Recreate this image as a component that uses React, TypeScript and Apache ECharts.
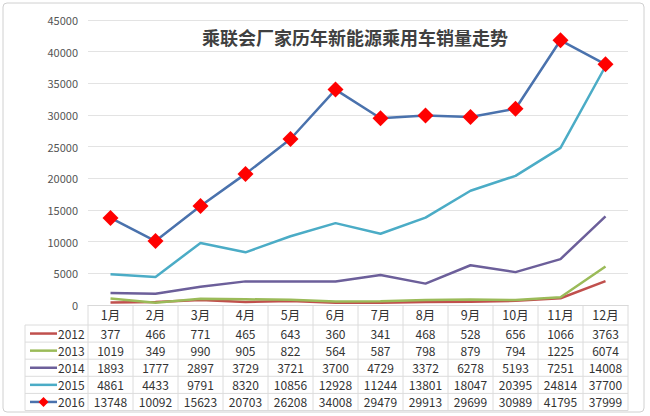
import React, { useEffect, useRef } from "react";
import * as echarts from "echarts";

const months = ["1月", "2月", "3月", "4月", "5月", "6月", "7月", "8月", "9月", "10月", "11月", "12月"];
const years = ["2012", "2013", "2014", "2015", "2016"];
const v2012 = [377, 466, 771, 465, 643, 360, 341, 468, 528, 656, 1066, 3763];
const v2013 = [1019, 349, 990, 905, 822, 564, 587, 798, 879, 794, 1225, 6074];
const v2014 = [1893, 1777, 2897, 3729, 3721, 3700, 4729, 3372, 6278, 5193, 7251, 14008];
const v2015 = [4861, 4433, 9791, 8320, 10856, 12928, 11244, 13801, 18047, 20395, 24814, 37700];
const v2016 = [13748, 10092, 15623, 20703, 26208, 34008, 29479, 29913, 29699, 30989, 41795, 37999];
const colors = ["#c0504d", "#9bbb59", "#6c5f9a", "#4bacc6", "#4a72ad"];
const title = "乘联会厂家历年新能源乘用车销量走势";

const FONT = "'Noto Sans CJK SC', 'Noto Sans', sans-serif";

export default function App() {
  const ref = useRef<HTMLDivElement>(null);
  useEffect(() => {
    if (!ref.current) return;
    const chart = echarts.init(ref.current, null, { renderer: "svg" });
    const all = [v2012, v2013, v2014, v2015, v2016];
    const gridLeft = 88, gridRight = 22, gridTop = 20, gridBottom = 111;
    const series: any[] = all.map((d, i) => ({
      name: years[i],
      type: "line",
      data: d,
      z: 2 + i,
      lineStyle: { color: colors[i], width: 2.5 },
      itemStyle: { color: i === 4 ? "#ff0000" : colors[i] },
      symbol: i === 4 ? "diamond" : "none",
      symbolSize: i === 4 ? 16 : 0,
      showSymbol: i === 4,
    }));
    chart.setOption({
      animation: false,
      textStyle: { fontFamily: FONT },
      grid: { left: gridLeft, right: gridRight, top: gridTop, bottom: gridBottom },
      xAxis: {
        type: "category",
        data: months,
        boundaryGap: true,
        axisLine: { lineStyle: { color: "#d9d9d9" } },
        axisTick: { show: false },
        axisLabel: { color: "#333", fontSize: 12.5, margin: 3, fontFamily: FONT },
      },
      yAxis: {
        type: "value",
        min: 0,
        max: 45000,
        interval: 5000,
        axisLine: { show: false },
        axisTick: { show: false },
        axisLabel: { color: "#555", fontSize: 11, margin: 10, fontFamily: FONT, formatter: (v: number) => String(v) },
        splitLine: { lineStyle: { color: "#e3e3e3" } },
      },
      series,
    });

    const xs = months.map((_, i) => chart.convertToPixel({ xAxisIndex: 0 }, i) as number);
    const step = xs.length > 1 ? xs[1] - xs[0] : 45;
    const tableTop = 305;
    const headerH = 20;
    const rowH = 17.1;
    const bodyTop = tableTop + headerH;
    const bodyBottom = bodyTop + rowH * years.length;
    const colLeft = 25;
    const lineC = "#dcdcdc";
    const g: any[] = [];
    g.push({ type: "rect", shape: { x: 3, y: 3, width: 641, height: 409, r: 4 }, style: { fill: "none", stroke: "#d0d0d0", lineWidth: 1 }, z: 0 });
    for (let k = 0; k <= months.length; k++) {
      const x = xs[0] - step / 2 + k * step;
      g.push({ type: "line", shape: { x1: x, y1: tableTop, x2: x, y2: bodyBottom }, style: { stroke: lineC, lineWidth: 1 } });
    }
    g.push({ type: "line", shape: { x1: colLeft, y1: bodyTop, x2: colLeft, y2: bodyBottom }, style: { stroke: lineC, lineWidth: 1 } });
    for (let r = 0; r <= years.length; r++) {
      const y = bodyTop + r * rowH;
      g.push({ type: "line", shape: { x1: colLeft, y1: y, x2: xs[xs.length - 1] + step / 2, y2: y }, style: { stroke: lineC, lineWidth: 1 } });
    }
    years.forEach((yr, r) => {
      const cy = bodyTop + r * rowH + rowH / 2;
      g.push({ type: "line", shape: { x1: 30, y1: cy, x2: 57, y2: cy }, style: { stroke: colors[r], lineWidth: 2.5 } });
      if (r === 4) {
        g.push({ type: "polygon", shape: { points: [[43.5, cy - 5], [48.5, cy], [43.5, cy + 5], [38.5, cy]] }, style: { fill: "#ff0000" } });
      }
      g.push({ type: "text", x: 58, y: cy, style: { text: yr, fill: "#333", fontSize: 12, fontFamily: FONT, textAlign: "left", textVerticalAlign: "middle" } });
      all[r].forEach((v, i) => {
        g.push({ type: "text", x: xs[i], y: cy, style: { text: String(v), fill: "#333", fontSize: 12, fontFamily: FONT, textAlign: "center", textVerticalAlign: "middle" } });
      });
    });
    g.push({ type: "text", x: 355, y: 37, z: 10, style: { text: title, fill: "#404040", fontSize: 18, fontWeight: "bold", fontFamily: FONT, textAlign: "center", textVerticalAlign: "middle" } });
    chart.setOption({ graphic: { elements: g } });
    return () => chart.dispose();
  }, []);
  return <div ref={ref} style={{ width: 650, height: 416, position: "absolute", left: 0, top: 0, background: "#fff" }} />;
}
